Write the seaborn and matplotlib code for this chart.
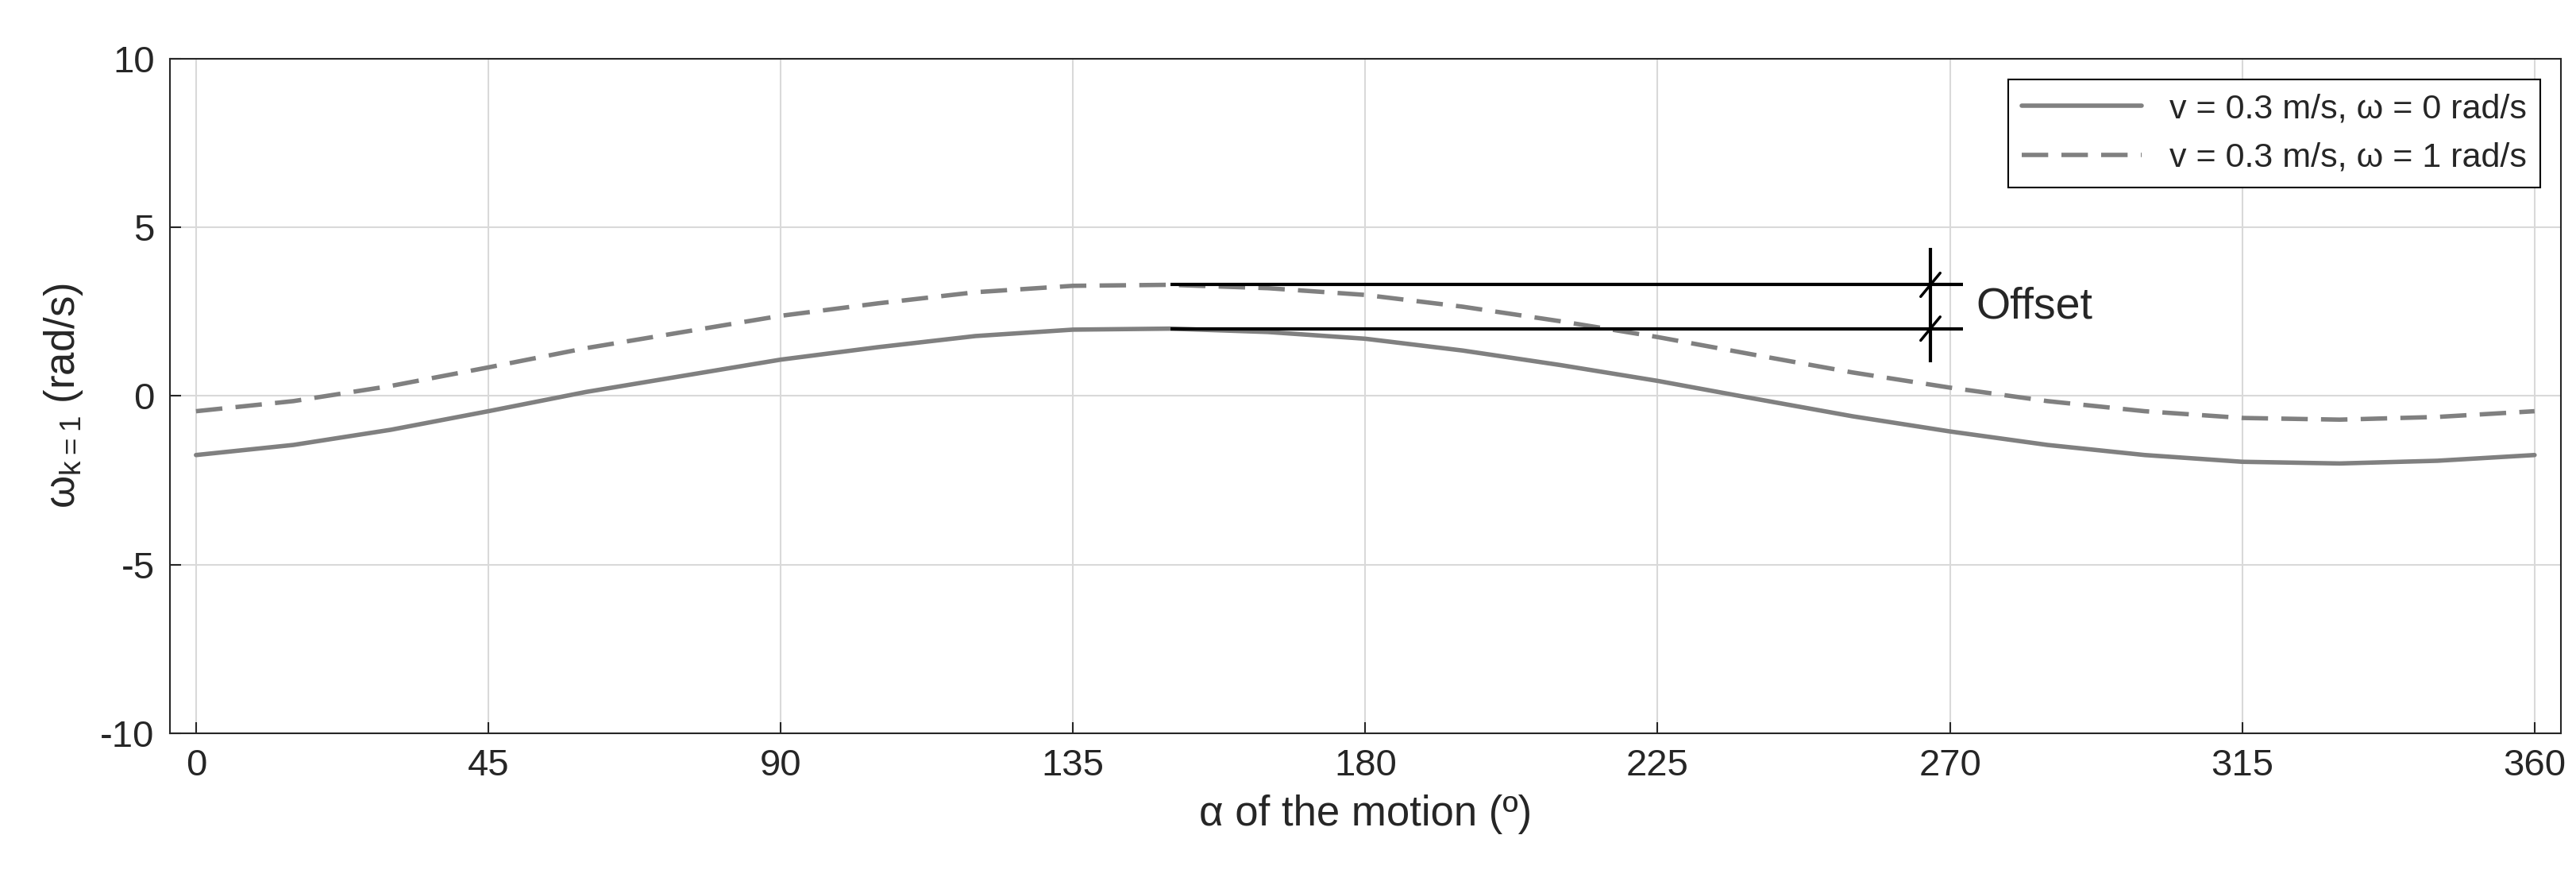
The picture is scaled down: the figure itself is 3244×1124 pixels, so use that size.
import matplotlib
matplotlib.use("Agg")
import matplotlib.pyplot as plt
import seaborn as sns
import pandas as pd

ALPHA_DEG = [0, 15, 30, 45, 60, 75, 90, 105, 120, 135, 150, 165, 180,
             195, 210, 225, 240, 255, 270, 285, 300, 315, 330, 345, 360]
OMEGA_W0 = [-1.75, -1.45, -1.0, -0.45, 0.12, 0.6, 1.08, 1.45, 1.78, 1.97, 2.0, 1.9, 1.7,
            1.35, 0.92, 0.45, -0.08, -0.6, -1.05, -1.45, -1.75, -1.95, -2.0, -1.92, -1.75]
OMEGA_W1 = [-0.45, -0.15, 0.3, 0.85, 1.42, 1.9, 2.38, 2.75, 3.08, 3.27, 3.3, 3.2, 3.0,
            2.65, 2.22, 1.75, 1.22, 0.7, 0.25, -0.15, -0.45, -0.65, -0.7, -0.62, -0.45]
LABELS = ["v = 0.3 m/s, ω = 0 rad/s", "v = 0.3 m/s, ω = 1 rad/s"]
X_TICKS = [0, 45, 90, 135, 180, 225, 270, 315, 360]
Y_TICKS = [-10, -5, 0, 5, 10]

sns.set_style("ticks")
plt.rcParams["font.family"] = ["Liberation Sans", "DejaVu Sans"]
plt.rcParams["axes.unicode_minus"] = False

df = pd.concat([
    pd.DataFrame({"alpha": ALPHA_DEG, "omega": OMEGA_W0, "case": LABELS[0]}),
    pd.DataFrame({"alpha": ALPHA_DEG, "omega": OMEGA_W1, "case": LABELS[1]}),
])

fig = plt.figure(figsize=(32.44, 11.24), dpi=100)
ax = fig.add_axes([0.066, 0.179, 0.928, 0.755])
sns.lineplot(data=df, x="alpha", y="omega", hue="case", style="case",
             palette=["#808080", "#808080"], dashes=[(None, None), (6, 3)],
             linewidth=4, ax=ax)

# offset annotation
y_hi, y_lo = max(OMEGA_W1), max(OMEGA_W0)
ax.hlines([y_hi, y_lo], 150, 272, color="black", linewidth=3)
ax.vlines(267, 1.0, 4.4, color="black", linewidth=3)
for y in (y_hi, y_lo):
    ax.plot([265.5, 268.5], [y - 0.35, y + 0.35], color="black", linewidth=2.5)
ax.text(274, (y_hi + y_lo) / 2, "Offset", fontsize=40, va="center", ha="left")

ax.set_xlim(-4, 364)
ax.set_ylim(-10, 10)
ax.set_xticks(X_TICKS)
ax.set_yticks(Y_TICKS)
ax.grid(True, color="#d9d9d9", linewidth=1.5)
ax.tick_params(direction="in", labelsize=34, length=10, width=1.5, pad=14)
for s in ax.spines.values():
    s.set_visible(True)
    s.set_linewidth(1.5)
ax.set_xlabel("α of the motion (º)", fontsize=38, labelpad=10)
ax.set_ylabel("ω$_{\\mathregular{k=1}}$ (rad/s)", fontsize=38, labelpad=14)

leg = ax.legend(loc="upper right", fontsize=31, fancybox=False, framealpha=1,
                edgecolor="black", handlelength=3.5, borderaxespad=0.6)
leg.get_frame().set_linewidth(1.5)

fig.savefig("out.png", dpi=100)
